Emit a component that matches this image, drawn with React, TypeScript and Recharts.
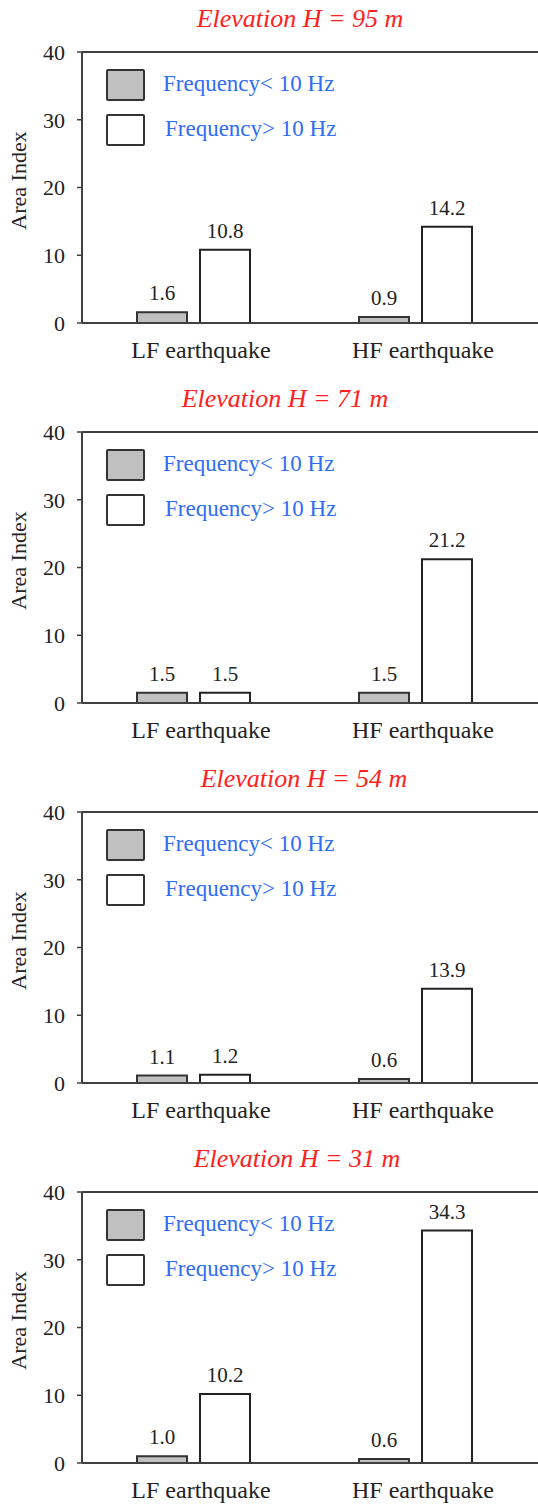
import { Bar, BarChart, LabelList, Legend, ReferenceLine, XAxis, YAxis } from "recharts";

const categories = ["LF earthquake", "HF earthquake"];
const titles = [
  "Elevation H = 95 m",
  "Elevation H = 71 m",
  "Elevation H = 54 m",
  "Elevation H = 31 m",
];
const lowFreq = [
  [1.6, 0.9],
  [1.5, 1.5],
  [1.1, 0.6],
  [1.0, 0.6],
];
const highFreq = [
  [10.8, 14.2],
  [1.5, 21.2],
  [1.2, 13.9],
  [10.2, 34.3],
];
const seriesNames = ["Frequency< 10 Hz", "Frequency> 10 Hz"];
const yTicks = [0, 10, 20, 30, 40];

// horizontal centre of each panel title (the source is not quite aligned)
const titleCentres = [300, 285, 304, 297];

const FONT = "'Liberation Serif', 'Times New Roman', serif";
const INK = "#222";
const AXIS = "#404040";
const GRAY = "#c0c0c0";
const BLUE = "#2f6df5";
const RED = "#ff2020";

const PANEL_H = 380;
const WIDTH = 538;

const YLabel = ({ viewBox }: any) => {
  const cx = 18;
  const cy = viewBox.y + viewBox.height / 2 - 7;
  return (
    <text
      x={cx}
      y={cy}
      transform={`rotate(-90, ${cx}, ${cy})`}
      textAnchor="middle"
      dominantBaseline="central"
      fontFamily={FONT}
      fontSize={22}
      fill={INK}
    >
      Area Index
    </text>
  );
};

const LegendBox = ({ payload }: any) => (
  <div style={{ fontFamily: FONT }}>
    {(payload ?? []).map((entry: any, i: number) => (
      <div
        key={entry.value}
        style={{ display: "flex", alignItems: "center", height: 32, marginBottom: 13 }}
      >
        <div
          style={{
            width: 35,
            height: 28,
            background: entry.color,
            border: "2px solid #333",
            borderRadius: 2,
          }}
        />
        <span
          style={{
            marginLeft: 18 + i * 2,
            color: BLUE,
            fontSize: 23,
            lineHeight: "23px",
            marginTop: -3,
            whiteSpace: "nowrap",
          }}
        >
          {entry.value}
        </span>
      </div>
    ))}
  </div>
);

const Panel = ({ index }: { index: number }) => {
  const rows = categories.map((name, i) => ({
    name,
    low: lowFreq[index][i],
    high: highFreq[index][i],
  }));

  return (
    <div style={{ position: "absolute", top: index * PANEL_H, left: 0, width: WIDTH, height: PANEL_H }}>
      <div
        style={{
          position: "absolute",
          top: 6,
          left: titleCentres[index] - 150,
          width: 300,
          textAlign: "center",
          fontFamily: FONT,
          fontStyle: "italic",
          fontSize: 26,
          lineHeight: "26px",
          color: RED,
          zIndex: 2,
        }}
      >
        {titles[index]}
      </div>
      <BarChart
        width={WIDTH}
        height={PANEL_H}
        data={rows}
        margin={{ top: 52, right: 0, bottom: 17, left: 0 }}
        barSize={50}
        barGap={13}
      >
        <ReferenceLine y={40} stroke={AXIS} strokeWidth={2} />
        <XAxis
          dataKey="name"
          height={40}
          padding={{ left: 0, right: 12 }}
          tickLine={false}
          tickSize={0}
          tickMargin={18}
          axisLine={{ stroke: AXIS, strokeWidth: 2 }}
          tick={{ fill: INK, fontSize: 24, fontFamily: FONT, dx: 8 }}
        />
        <YAxis
          width={82}
          domain={[0, 40]}
          ticks={yTicks}
          interval={0}
          tickSize={5}
          tickMargin={12}
          axisLine={{ stroke: AXIS, strokeWidth: 2 }}
          tickLine={{ stroke: AXIS, strokeWidth: 1.5 }}
          tick={{ fill: INK, fontSize: 22, fontFamily: FONT }}
          label={<YLabel />}
        />
        <Legend
          layout="vertical"
          verticalAlign="middle"
          align="center"
          content={<LegendBox />}
          wrapperStyle={{ top: 69, left: 106, width: 300 }}
        />
        <Bar dataKey="low" name={seriesNames[0]} fill={GRAY} stroke="#333" strokeWidth={2} isAnimationActive={false}>
          <LabelList
            dataKey="low"
            position="top"
            offset={12}
            formatter={(v: any) => Number(v).toFixed(1)}
            fill={INK}
            fontSize={21}
            fontFamily={FONT}
          />
        </Bar>
        <Bar dataKey="high" name={seriesNames[1]} fill="#ffffff" stroke="#222" strokeWidth={2} isAnimationActive={false}>
          <LabelList
            dataKey="high"
            position="top"
            offset={12}
            formatter={(v: any) => Number(v).toFixed(1)}
            fill={INK}
            fontSize={21}
            fontFamily={FONT}
          />
        </Bar>
      </BarChart>
    </div>
  );
};

export default function App() {
  return (
    <div
      style={{
        position: "absolute",
        top: 0,
        left: 0,
        width: WIDTH,
        height: 1504,
        overflow: "hidden",
        background: "#fff",
      }}
    >
      {titles.map((_, i) => (
        <Panel key={i} index={i} />
      ))}
    </div>
  );
}
